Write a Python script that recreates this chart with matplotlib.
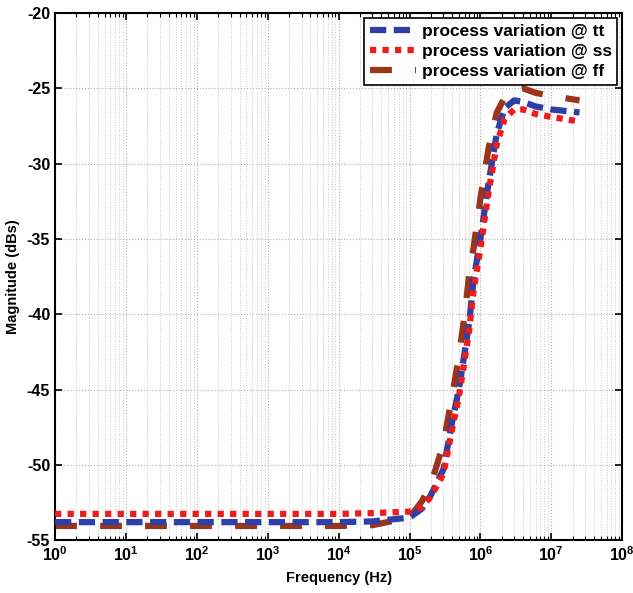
import numpy as np
import matplotlib.pyplot as plt
from matplotlib.ticker import LogLocator, MultipleLocator

plt.rcParams['font.family'] = ['Liberation Sans', 'DejaVu Sans']
plt.rcParams['font.weight'] = 'bold'
plt.rcParams['axes.unicode_minus'] = False
plt.rcParams['mathtext.fontset'] = 'custom'
plt.rcParams['mathtext.rm'] = 'Liberation Sans:bold'
plt.rcParams['mathtext.bf'] = 'Liberation Sans:bold'

# frequency sweep points (Hz)
freq = [1e0, 1e1, 1e2, 1e3, 1e4, 3e4, 1e5, 1.5e5, 2e5, 3e5, 4e5, 5e5,
        6e5, 7e5, 8e5, 1e6, 1.3e6, 1.7e6, 2.2e6, 3e6, 4e6, 6e6, 1e7, 2.5e7]

# magnitude response per process corner (dB)
mag_tt = [-53.8, -53.8, -53.8, -53.8, -53.8, -53.75, -53.5, -52.9, -52.0, -50.3,
          -47.1, -44.9, -42.5, -40.4, -37.7, -35.0, -31.3, -28.0, -26.3, -25.8,
          -25.9, -26.2, -26.4, -26.6]
mag_ss = [-53.25, -53.25, -53.25, -53.25, -53.25, -53.2, -53.1, -52.8, -52.1, -50.6,
          -47.6, -45.4, -43.0, -40.9, -38.4, -35.6, -31.9, -28.7, -27.0, -26.4,
          -26.4, -26.7, -26.9, -27.2]
mag_ff = [-54.05, -54.05, -54.05, -54.05, -54.05, -54.0, -53.5, -52.4, -51.3, -48.6,
          -45.4, -42.7, -40.0, -37.2, -35.6, -32.3, -29.0, -26.6, -25.6, -25.1,
          -25.0, -25.3, -25.5, -25.8]

decades = list(range(0, 9))

fig = plt.figure(figsize=(6.33, 5.93), dpi=100)
ax = fig.add_axes([0.087, 0.089, 0.896, 0.889])

ax.semilogx(freq, mag_tt, color='#2e3fa6', lw=4.5, dashes=(2.6, 1.2),
            label='process variation @ tt', zorder=3)
ax.semilogx(freq, mag_ss, color='#ee1c1c', lw=4.5, dashes=(1, 1),
            label='process variation @ ss', zorder=4)
ax.semilogx(freq, mag_ff, color='#9c3418', lw=4.5, dashes=(3.5, 3.7),
            label='process variation @ ff', zorder=2)

ax.set_xlim(1e0, 1e8)
ax.set_ylim(-55, -20)
ax.set_xticks([10.0 ** k for k in decades])
ax.set_xticklabels([r'$10^{%d}$' % k for k in decades])
ax.xaxis.set_minor_locator(LogLocator(base=10, subs=np.arange(2, 10), numticks=20))
ax.yaxis.set_major_locator(MultipleLocator(5))

ax.grid(True, which='major', color='#b0b0b0', linestyle=':', lw=0.8)
ax.grid(True, which='minor', axis='x', color='#c8c8c8', linestyle=':', lw=0.7)
ax.set_axisbelow(True)

ax.tick_params(which='both', direction='in', top=True, right=True, labelsize=11.5)
ax.tick_params(which='major', length=5, width=1.2)
ax.tick_params(which='minor', length=3, width=0.8)
for s in ax.spines.values():
    s.set_linewidth(1.5)

ax.set_xlabel('Frequency (Hz)', fontsize=10.5, fontweight='bold', labelpad=5)
ax.set_ylabel('Magnitude (dBs)', fontsize=10.5, fontweight='bold', labelpad=5)

leg = ax.legend(loc='upper right', fontsize=12.5, frameon=True, fancybox=False,
                edgecolor='black', framealpha=1, handlelength=2.7,
                handletextpad=0.3, borderaxespad=0.3, labelspacing=0.3,
                borderpad=0.3)
leg.get_frame().set_linewidth(1.2)
for t in leg.get_texts():
    t.set_fontweight('bold')

fig.savefig('out.png', dpi=100)
